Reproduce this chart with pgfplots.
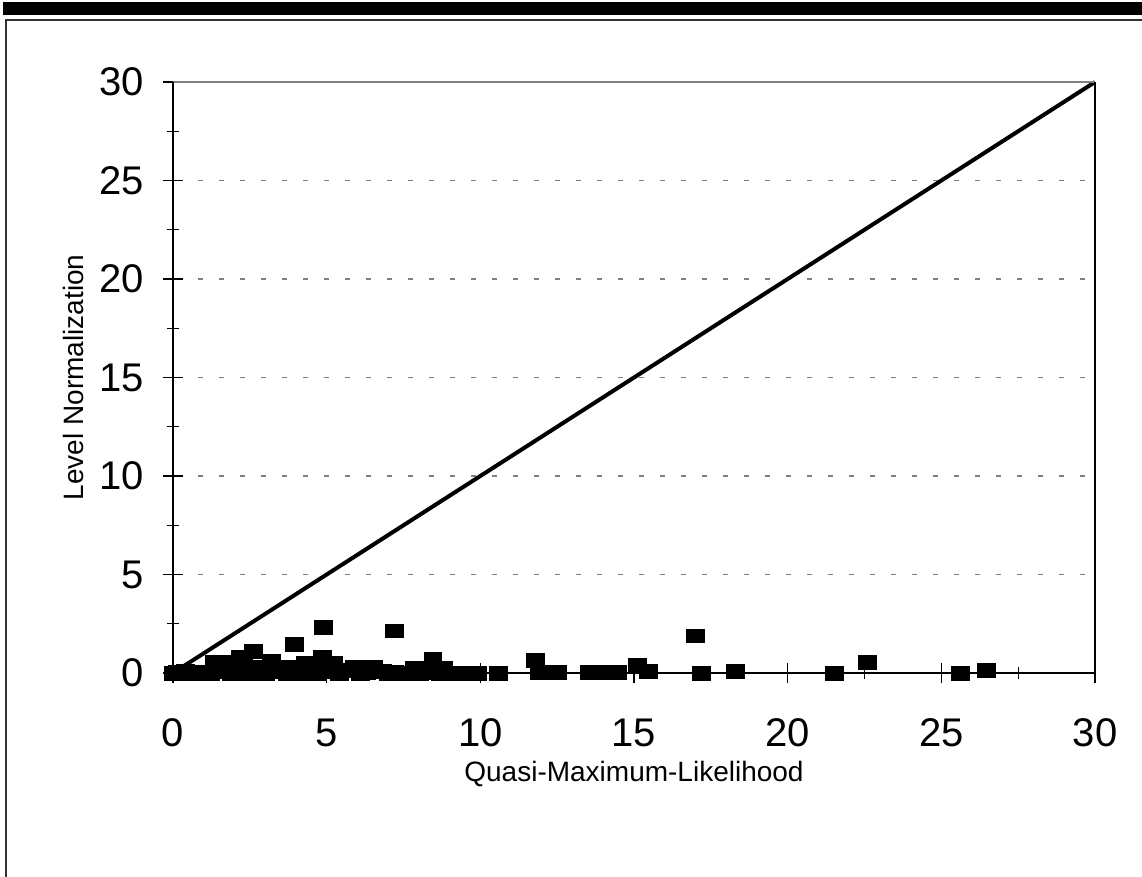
\documentclass[border=0pt]{standalone}
\usepackage{fontspec}
\setmainfont{Liberation Sans}
\usepackage{pgfplots}
\pgfplotsset{compat=1.18}
\begin{document}
\begin{tikzpicture}
\useasboundingbox (0pt,0pt) rectangle (1142pt,-877pt);
\fill[black] (3pt,-2pt) rectangle (1142pt,-15pt);
\draw[black!80, line width=2pt] (6pt,-877pt) -- (6pt,-20pt) -- (1142pt,-20pt);
\begin{axis}[
  at={(173pt,-673pt)}, anchor=south west,
  scale only axis, width=922pt, height=591pt,
  xmin=0, xmax=30, ymin=0, ymax=30,
  clip=false,
  xtick={0,5,...,30}, ytick={0,5,...,30},
  minor x tick num=1, minor y tick num=1,
  xtick pos=bottom, ytick pos=left,
  tick align=center,
  major tick length=20pt, minor tick length=12pt,
  every tick/.style={black, line width=1.3pt},
  axis line style={draw=none},
  ymajorgrids,
  major grid style={gray, line width=1.5pt, dash pattern=on 5pt off 16pt, dash phase=-4pt},
  /pgf/number format/assume math mode=true,
  tick label style={font=\fontsize{40}{42}\selectfont, inner sep=0pt},
  xticklabel style={anchor=base, yshift=-63pt},
  yticklabel style={anchor=east, xshift=-19pt},
  xlabel={Quasi-Maximum-Likelihood},
  ylabel={Level Normalization},
  every axis x label/.style={at={(axis description cs:0.5,-0.1844)}, anchor=base,
    font=\fontsize{28}{30}\selectfont, inner sep=0pt},
  every axis y label/.style={at={(axis description cs:-0.0976,0.5)}, rotate=90, anchor=base,
    font=\fontsize{28}{30}\selectfont, inner sep=0pt},
]
\addplot[black, line width=4pt] coordinates {(0,0) (30,30)};
\addplot[only marks, mark=square*, mark size=6.75pt,
  mark options={black, fill=black, xscale=1.33}] coordinates {
(0.0,0.0) (0.15,0.05) (0.4,0.1) (0.6,0.0) (0.8,0.05) (1.0,0.05) (1.2,0.0)
(1.35,0.55) (1.75,0.55) (1.5,0.1) (1.9,0.0) (2.2,0.8) (2.1,0.2) (2.4,0.0)
(2.6,1.1) (2.3,0.4) (2.9,0.3) (3.0,0.0) (3.2,0.6) (3.4,0.1) (3.6,0.3) (3.7,0.0)
(3.95,1.45) (3.9,0.3) (4.1,0.0) (4.3,0.5) (4.5,0.1) (4.85,0.8) (4.88,2.33)
(4.7,0.0) (5.0,0.1) (5.2,0.5) (5.4,0.0) (5.6,0.15) (5.9,0.3) (6.1,0.0)
(6.5,0.3) (6.3,0.05) (6.8,0.1) (7.0,0.0) (7.2,0.05) (7.19,2.16) (7.5,0.0)
(7.85,0.25) (8.0,0.0) (8.45,0.7) (8.3,0.05) (8.8,0.25) (8.7,0.0) (9.2,0.0)
(9.65,0.0) (9.9,0.0)
(10.58,0.0) (11.8,0.65) (11.9,0.05) (12.5,0.05) (13.55,0.05) (14.0,0.05)
(14.45,0.05) (15.1,0.4) (15.45,0.1) (17.0,1.9) (17.2,0.0) (18.3,0.1)
(21.5,0.0) (22.6,0.55) (25.6,0.0) (26.45,0.15)
};
\draw[gray, line width=2pt] (axis cs:0,30) -- (axis cs:30,30);
\draw[black, line width=1.5pt] (axis cs:0,0) -- (axis cs:0,30);
\draw[black, line width=1.5pt] (axis cs:30,0) -- (axis cs:30,30);
\draw[black, line width=1.8pt] (axis cs:0,0) -- (axis cs:30,0);
\end{axis}
\end{tikzpicture}
\end{document}
